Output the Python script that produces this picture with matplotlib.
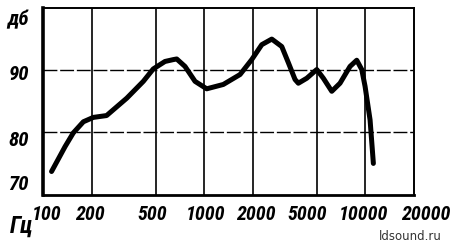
import matplotlib
matplotlib.use("Agg")
import matplotlib.pyplot as plt
from matplotlib import font_manager
from matplotlib.font_manager import FontProperties

# ---- data ----
freq_hz = [113, 137, 154, 178, 205, 248, 331, 419, 483, 571, 643, 675, 760, 877,
           1036, 1313, 1668, 1971, 2274, 2624, 3026, 3325, 3658, 3835, 4324, 4988,
           5480, 6180, 6953, 8020, 8830, 9485, 9943, 10680, 11195]
level_db = [73.7, 77.7, 79.9, 81.7, 82.4, 82.7, 85.5, 88.2, 90.2, 91.4, 91.7, 91.8,
            90.6, 88.2, 87.0, 87.7, 89.3, 91.7, 94.1, 95.0, 93.8, 91.2, 88.5, 87.9,
            88.7, 90.1, 88.7, 86.6, 87.9, 90.6, 91.6, 90.1, 87.4, 82.0, 75.0]
x_ticks = [100, 200, 500, 1000, 2000, 5000, 10000, 20000]
x_labels = ["100", "200", "500", "1000", "2000", "5000", "10000", "20000"]
y_ticks = [70, 80, 90]
y_labels = ["70", "80", "90"]

W, H = 451, 246

# pick a condensed / narrow bold italic sans face if one is installed
cands = []
for f in font_manager.fontManager.ttflist:
    if "Serif" in f.name or "Mono" in f.name:
        continue
    narrow = ("Narrow" in f.name or "Condensed" in f.name or
              str(f.stretch) in ("condensed", "semi-condensed", "extra-condensed"))
    if not narrow:
        continue
    score = 0
    if f.weight in ("bold", 700) or str(f.weight) == "700":
        score += 2
    if f.style in ("italic", "oblique"):
        score += 1
    cands.append((score, f.fname))
if cands:
    cands.sort(reverse=True)
    base_fp = FontProperties(fname=cands[0][1])
    lab_size = 14.5
else:
    base_fp = FontProperties(family="DejaVu Sans", weight="bold", style="italic")
    lab_size = 10


def fp(size):
    p = base_fp.copy()
    p.set_size(size)
    return p


def px(x, y):
    return x / W, 1 - y / H


fig = plt.figure(figsize=(W / 100, H / 100), dpi=100)
ax = fig.add_axes([43 / W, 1 - 194.5 / H, (414 - 43) / W, (194.5 - 8) / H])
ax.set_xscale("log")
ax.set_xlim(100, 20000)
ax.set_ylim(70, 100)

for f in x_ticks[1:-1]:
    ax.axvline(f, color="black", lw=1.2, zorder=1)
for v in [80, 90]:
    ax.axhline(v, color="black", lw=1.0, ls=(0, (10, 2)), zorder=1)

ax.plot(freq_hz, level_db, color="black", lw=3.6, solid_capstyle="round",
        solid_joinstyle="round", zorder=3)

for s in ax.spines.values():
    s.set_color("black")
    s.set_linewidth(1.4)
ax.spines["left"].set_linewidth(2.6)
ax.spines["bottom"].set_linewidth(2.0)
ax.set_xticks([])
ax.set_yticks([])
ax.xaxis.set_minor_locator(matplotlib.ticker.NullLocator())

# x tick labels (hand-set layout, as in the printed original)
x_lab_px = [47, 90, 152, 206, 256, 307, 364, 450]
x_lab_ha = ["center"] * 7 + ["right"]
for lab, xp, ha in zip(x_labels, x_lab_px, x_lab_ha):
    fig.text(*px(xp, 214), lab, ha=ha, va="center",
             fontproperties=fp(lab_size), color="black")

# y tick labels
y_lab_py = [185, 140, 74.5]
for lab, yp in zip(y_labels, y_lab_py):
    fig.text(*px(29, yp), lab, ha="right", va="center",
             fontproperties=fp(lab_size + 0.5), color="black")

fig.text(*px(18, 20), "дб", ha="center", va="center",
         fontproperties=fp(lab_size + 0.5), color="black")
fig.text(*px(22, 226), "Гц", ha="center", va="center",
         fontproperties=fp(lab_size + 2.5), color="black")
fig.text(*px(442, 237), "ldsound.ru", ha="right", va="center",
         family="DejaVu Sans", size=8.5, color="#333333")

fig.savefig("out.png", dpi=100)
